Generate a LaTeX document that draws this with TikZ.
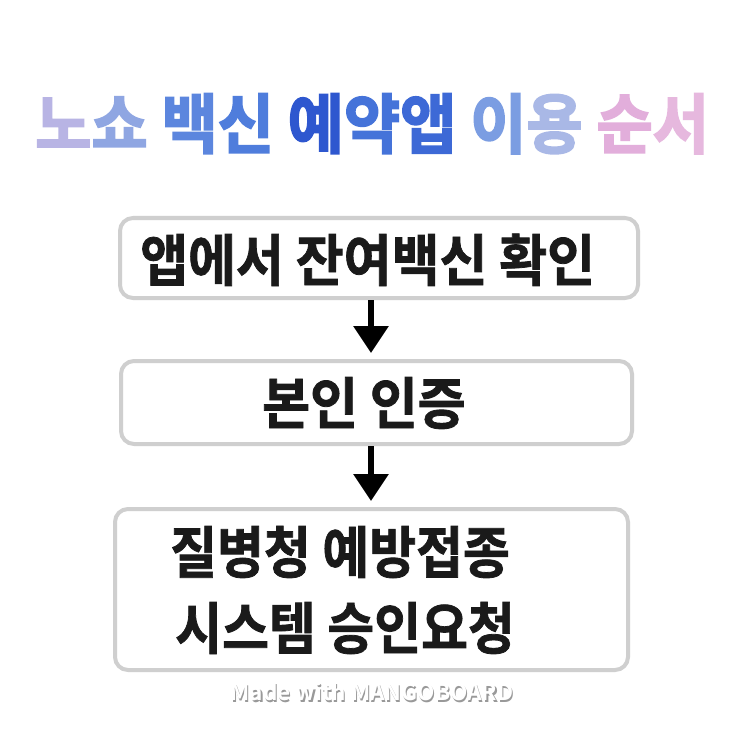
\documentclass[tikz,border=0pt]{standalone}
\usepackage{fontspec}
\usetikzlibrary{arrows.meta,calc}
\newfontfamily\krb{Noto Sans CJK KR Bold}[FakeBold=1.4]
\newfontfamily\krt{Noto Sans CJK KR Bold}[FakeBold=2.8]
\newfontfamily\krw{Noto Sans CJK KR Bold}
\definecolor{boxgray}{HTML}{CFCFCF}
\definecolor{ink}{HTML}{1A1A1A}
\definecolor{c1}{HTML}{B8B4E4}
\definecolor{c2}{HTML}{8FA6E2}
\definecolor{c3}{HTML}{5C86DE}
\definecolor{c4}{HTML}{4F7DDC}
\definecolor{c5}{HTML}{2E57CF}
\definecolor{c6}{HTML}{4573D9}
\definecolor{c7}{HTML}{3D69D6}
\definecolor{c8}{HTML}{7B9DE2}
\definecolor{c9}{HTML}{A9B8E6}
\definecolor{c10}{HTML}{E2AEDB}
\definecolor{c11}{HTML}{E6B8DE}
\tikzset{
  box/.style={draw=boxgray, line width=4pt, rounded corners=13pt, fill=white, inner sep=0pt},
  boxtext/.style={anchor=base west, inner sep=0pt, text=ink, xscale=0.93, font=\krb\fontsize{56}{56}\selectfont},
  titletext/.style={anchor=base west, inner sep=0pt, xscale=0.94, font=\krt\fontsize{65}{65}\selectfont},
  arr/.style={line width=6pt, -{Triangle[width=34pt,length=27pt]}, shorten >=6pt},
  wm/.style={inner sep=0pt, font=\krw\fontsize{22.5}{22.5}\selectfont}
}
\begin{document}
\begin{tikzpicture}[x=1pt,y=-1pt]
\useasboundingbox[fill=white] (0,0) rectangle (743,743);
% title
\node[titletext] (title) at (35,148) {\textcolor{c1}{노}\textcolor{c2}{쇼} \textcolor{c3}{백}\textcolor{c4}{신} \textcolor{c5}{예}\textcolor{c6}{약}\textcolor{c7}{앱} \textcolor{c8}{이}\textcolor{c9}{용} \textcolor{c10}{순}\textcolor{c11}{서}};
% boxes
\node[box, minimum width=518pt, minimum height=80pt] (b1) at (379,258) {};
\node[box, minimum width=511pt, minimum height=83pt] (b2) at (376.5,402.5) {};
\node[box, minimum width=513pt, minimum height=161pt] (b3) at (371.5,589.5) {};
\node[boxtext] (t1) at (140,281) {앱에서 잔여백신 확인};
\node[boxtext] (t2) at (262,424) {본인 인증};
\node[boxtext, xscale=0.91/0.93] (t3) at (170,573) {질병청 예방접종};
\node[boxtext, xscale=0.91/0.93] (t4) at (175,649) {시스템 승인요청};
% arrows
\coordinate (ax) at (371,0);
\draw[arr] (b1.south -| ax) -- (b2.north -| ax);
\draw[arr] (b2.south -| ax) -- (b3.north -| ax);
% watermark
\node[wm, text=black!40] (wms) at (373.2,693.2) {Made with MANGOBOARD};
\node[wm, text=white] (wmk) at (372,692) {Made with MANGOBOARD};
\end{tikzpicture}
\end{document}
